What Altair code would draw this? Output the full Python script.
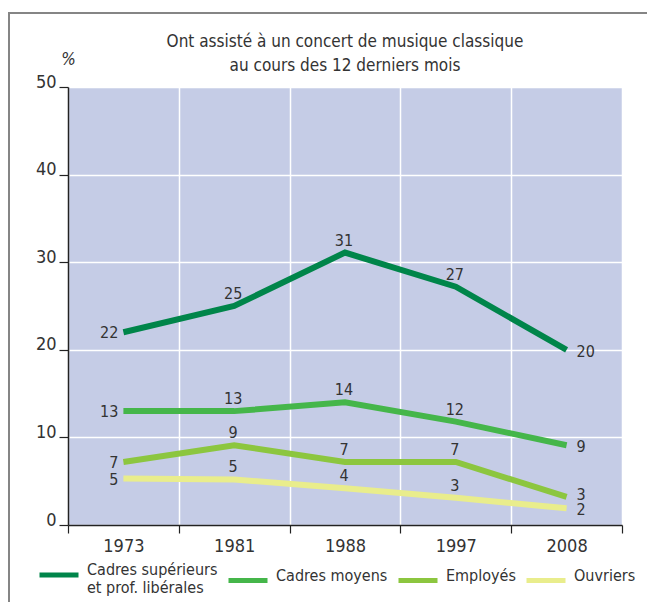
import altair as alt
import pandas as pd

annees = ["1973", "1981", "1988", "1997", "2008"]
series = ["Cadres supérieurs et prof. libérales", "Cadres moyens", "Employés", "Ouvriers"]
couleurs = ["#00854a", "#45b64a", "#8cc63f", "#e9ed8c"]

cadres_sup = [22.0, 25.0, 31.1, 27.2, 20.0]
cadres_moy = [13.0, 13.0, 14.0, 11.8, 9.1]
employes = [7.2, 9.1, 7.2, 7.2, 3.2]
ouvriers = [5.3, 5.2, 4.2, 3.1, 1.9]

lab_sup = ["22", "25", "31", "27", "20"]
lab_moy = ["13", "13", "14", "12", "9"]
lab_emp = ["7", "9", "7", "7", "3"]
lab_ouv = ["5", "5", "4", "3", "2"]

rows = []
for s, vals, labs in zip(series, [cadres_sup, cadres_moy, employes, ouvriers],
                         [lab_sup, lab_moy, lab_emp, lab_ouv]):
    for a, v, l in zip(annees, vals, labs):
        rows.append({"annee": a, "serie": s, "valeur": v, "etiquette": l})
df = pd.DataFrame(rows)

FONT = "'DejaVu Sans Condensed', 'Liberation Sans Narrow', 'Roboto Condensed', sans-serif"
TXT = "#333333"

x = alt.X("annee:O", sort=annees, title=None,
          scale=alt.Scale(paddingInner=0, paddingOuter=0),
          axis=alt.Axis(tickBand="extent", labelAngle=0, tickSize=8,
                        labelPadding=4, labelFontSize=18, grid=True,
                        domainColor="#222222", domainWidth=1.5,
                        tickColor="#222222", tickWidth=1.2))
y = alt.Y("valeur:Q", title="%",
          scale=alt.Scale(domain=[0, 50], nice=False),
          axis=alt.Axis(values=[0, 10, 20, 30, 40, 50], tickSize=9,
                        labelPadding=3, labelFontSize=18,
                        labelBaseline="alphabetic",
                        domainColor="#222222", domainWidth=1.5,
                        tickColor="#222222", tickWidth=1.2,
                        titleAngle=0, titleX=0, titleY=-19,
                        titleAlign="center", titleFontStyle="italic",
                        titleFontWeight="normal", titleFontSize=17))

color = alt.Color("serie:N", sort=series,
                  scale=alt.Scale(domain=series, range=couleurs),
                  legend=alt.Legend(
                      title=None, orient="none", legendX=-31, legendY=466,
                      direction="horizontal", columns=4,
                      symbolType="stroke", symbolSize=1521,
                      symbolStrokeWidth=5, labelFontSize=16,
                      labelOffset=6, columnPadding=0,
                      labelBaseline="alphabetic", labelLimit=300,
                      labelExpr="datum.label == 'Cadres supérieurs et prof. libérales' ? ['Cadres supérieurs', 'et prof. libérales'] : datum.label"))

base = alt.Chart(df)

lines = base.mark_line(strokeWidth=6).encode(x=x, y=y, color=color)

txt_kw = dict(font=FONT, fontSize=16, color=TXT)
enc = dict(x="annee:O", y="valeur:Q", text="etiquette:N")
t_first = base.transform_filter("datum.annee == '1973'").mark_text(
    align="right", baseline="middle", dx=-5, dy=1, **txt_kw).encode(**enc)
t_mid = base.transform_filter(
    "datum.annee != '1973' && datum.annee != '2008'").mark_text(
    align="center", baseline="middle", dx=-1, dy=-12, **txt_kw).encode(**enc)
t_last = base.transform_filter(
    "datum.annee == '2008' && datum.serie != 'Employés'").mark_text(
    align="left", baseline="middle", dx=10, dy=2, **txt_kw).encode(**enc)
t_last_emp = base.transform_filter(
    "datum.annee == '2008' && datum.serie == 'Employés'").mark_text(
    align="left", baseline="middle", dx=10, dy=-2, **txt_kw).encode(**enc)

frame_data = alt.Data(values=[{"k": 1}])
frame_top = alt.Chart(frame_data).mark_rule(color="#858585", strokeWidth=2).encode(
    x=alt.value(-59), x2=alt.value(590), y=alt.value(-74))
frame_left = alt.Chart(frame_data).mark_rule(color="#858585", strokeWidth=2).encode(
    x=alt.value(-59), y=alt.value(-75), y2=alt.value(530))

chart = alt.layer(frame_top, frame_left, lines, t_first, t_mid, t_last,
                  t_last_emp).properties(
    width=554, height=438,
    title=alt.TitleParams(
        text=["Ont assisté à un concert de musique classique",
              "au cours des 12 derniers mois"],
        anchor="middle", fontSize=17, font=FONT, fontWeight="normal",
        color=TXT, offset=0, dy=64, lineHeight=24),
    autosize=alt.AutoSizeParams(type="none"),
    padding={"left": 60, "top": 79, "right": 25, "bottom": 77},
).configure(font=FONT, background="white").configure_view(
    fill="#c5cce6", stroke=None
).configure_axis(
    labelFont=FONT, titleFont=FONT, labelColor=TXT, titleColor=TXT,
    gridColor="white", gridWidth=1.5
).configure_legend(labelFont=FONT, labelColor=TXT)

chart.save("out.html", embed_options={"renderer": "svg", "actions": False})
